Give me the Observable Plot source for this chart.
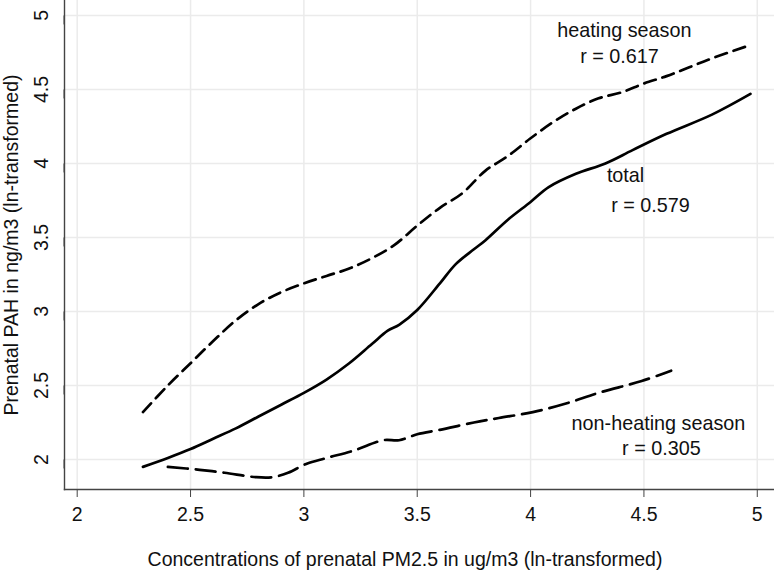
<!DOCTYPE html>
<html>
<head>
<meta charset="utf-8">
<script src="https://cdn.jsdelivr.net/npm/d3@7"></script>
<script src="https://cdn.jsdelivr.net/npm/@observablehq/plot@0.6"></script>
<style>
  html, body { margin: 0; padding: 0; background: #fff; }
  #chart { width: 774px; height: 572px; }
</style>
</head>
<body>
<div id="chart"></div>
<script>
const xTicks = [2, 2.5, 3, 3.5, 4, 4.5, 5];
const yTicks = [2, 2.5, 3, 3.5, 4, 4.5, 5];
const xTickLabels = ["2", "2.5", "3", "3.5", "4", "4.5", "5"];
const yTickLabels = ["2", "2.5", "3", "3.5", "4", "4.5", "5"];

const heatingX = [2.29, 2.4, 2.5, 2.6, 2.7, 2.8, 2.9, 3.0, 3.1, 3.2, 3.3, 3.4, 3.5, 3.6, 3.7, 3.8, 3.9, 4.0, 4.1, 4.2, 4.3, 4.4, 4.5, 4.6, 4.7, 4.8, 4.97];
const heatingY = [2.32, 2.50, 2.65, 2.80, 2.94, 3.05, 3.13, 3.19, 3.24, 3.29, 3.36, 3.45, 3.58, 3.70, 3.80, 3.95, 4.05, 4.17, 4.28, 4.37, 4.44, 4.48, 4.54, 4.59, 4.65, 4.71, 4.80];

const totalX = [2.29, 2.4, 2.5, 2.6, 2.7, 2.8, 2.9, 3.0, 3.1, 3.2, 3.3, 3.37, 3.42, 3.5, 3.6, 3.67, 3.75, 3.8, 3.9, 4.0, 4.08, 4.2, 4.33, 4.45, 4.6, 4.8, 4.97];
const totalY = [1.95, 2.01, 2.07, 2.14, 2.21, 2.29, 2.37, 2.45, 2.54, 2.65, 2.78, 2.87, 2.91, 3.01, 3.19, 3.32, 3.42, 3.48, 3.62, 3.74, 3.84, 3.93, 4.00, 4.09, 4.20, 4.33, 4.47];

const nonHeatingX = [2.40, 2.54, 2.65, 2.79, 2.86, 2.93, 3.01, 3.1, 3.22, 3.35, 3.42, 3.5, 3.6, 3.75, 3.86, 4.01, 4.16, 4.30, 4.49, 4.62];
const nonHeatingY = [1.95, 1.93, 1.91, 1.88, 1.88, 1.91, 1.97, 2.01, 2.06, 2.13, 2.13, 2.17, 2.20, 2.25, 2.28, 2.32, 2.38, 2.45, 2.53, 2.60];

const labelTexts = ["heating season", "r = 0.617", "total", "r = 0.579", "non-heating season", "r = 0.305"];
const labelX = [4.414, 4.392, 4.419, 4.529, 4.564, 4.577];
const labelY = [4.855, 4.676, 3.872, 3.669, 2.196, 2.027];

const xTitle = "Concentrations of prenatal PM2.5 in ug/m3 (ln-transformed)";
const yTitle = "Prenatal PAH in ng/m3 (ln-transformed)";

const toRows = (xs, ys) => xs.map((x, i) => ({x, y: ys[i]}));
const heating = toRows(heatingX, heatingY);
const total = toRows(totalX, totalY);
const nonHeating = toRows(nonHeatingX, nonHeatingY);
const labels = labelTexts.map((t, i) => ({t, x: labelX[i], y: labelY[i]}));

const font = "'Liberation Sans', Arial, sans-serif";
const fs = 19.5;

const chart = Plot.plot({
  width: 774,
  height: 572,
  marginLeft: 64,
  marginRight: 0,
  marginTop: 0,
  marginBottom: 83,
  x: {domain: [1.944, 5.076], axis: null},
  y: {domain: [1.797, 5.101], axis: null},
  style: {fontFamily: font, fontSize: fs + "px", background: "#fff", color: "#111"},
  marks: [
    Plot.gridX(xTicks, {stroke: "#ebebeb", strokeOpacity: 1, strokeWidth: 1.5}),
    Plot.gridY(yTicks, {stroke: "#ebebeb", strokeOpacity: 1, strokeWidth: 1.5}),
    Plot.line(heating, {x: "x", y: "y", stroke: "#000", strokeWidth: 2.7, strokeDasharray: "12,7", curve: "catmull-rom"}),
    Plot.line(total, {x: "x", y: "y", stroke: "#000", strokeWidth: 2.7, curve: "catmull-rom"}),
    Plot.line(nonHeating, {x: "x", y: "y", stroke: "#000", strokeWidth: 2.7, strokeDasharray: "20,8", curve: "catmull-rom"}),
    Plot.frame({anchor: "left", stroke: "#444", strokeWidth: 1.4}),
    Plot.frame({anchor: "bottom", stroke: "#444", strokeWidth: 1.4}),
    Plot.axisX(xTicks, {tickSize: 8, tickPadding: 10, stroke: "#444", fill: "#111", fontSize: fs,
      tickFormat: (d) => xTickLabels[xTicks.indexOf(d)], label: null}),
    Plot.axisY(yTicks, {tickSize: 9, tickPadding: 8, stroke: "#444", fill: "#111", fontSize: fs,
      rotate: -90, textAnchor: "middle", lineAnchor: "bottom",
      tickFormat: (d) => yTickLabels[yTicks.indexOf(d)], label: null}),
    Plot.text([yTitle], {frameAnchor: "left", dx: -47, rotate: -90, textAnchor: "middle", lineAnchor: "bottom",
      fill: "#111", fontSize: fs, text: d => d}),
    Plot.text([xTitle], {frameAnchor: "bottom", dx: -14.5, dy: 76.7, textAnchor: "middle", lineAnchor: "bottom",
      fill: "#111", fontSize: fs, text: d => d}),
    Plot.text(labels, {x: "x", y: "y", text: "t", textAnchor: "middle", lineAnchor: "bottom", fill: "#111", fontSize: 19.8})
  ]
});
document.getElementById("chart").appendChild(chart);
</script>
</body>
</html>
